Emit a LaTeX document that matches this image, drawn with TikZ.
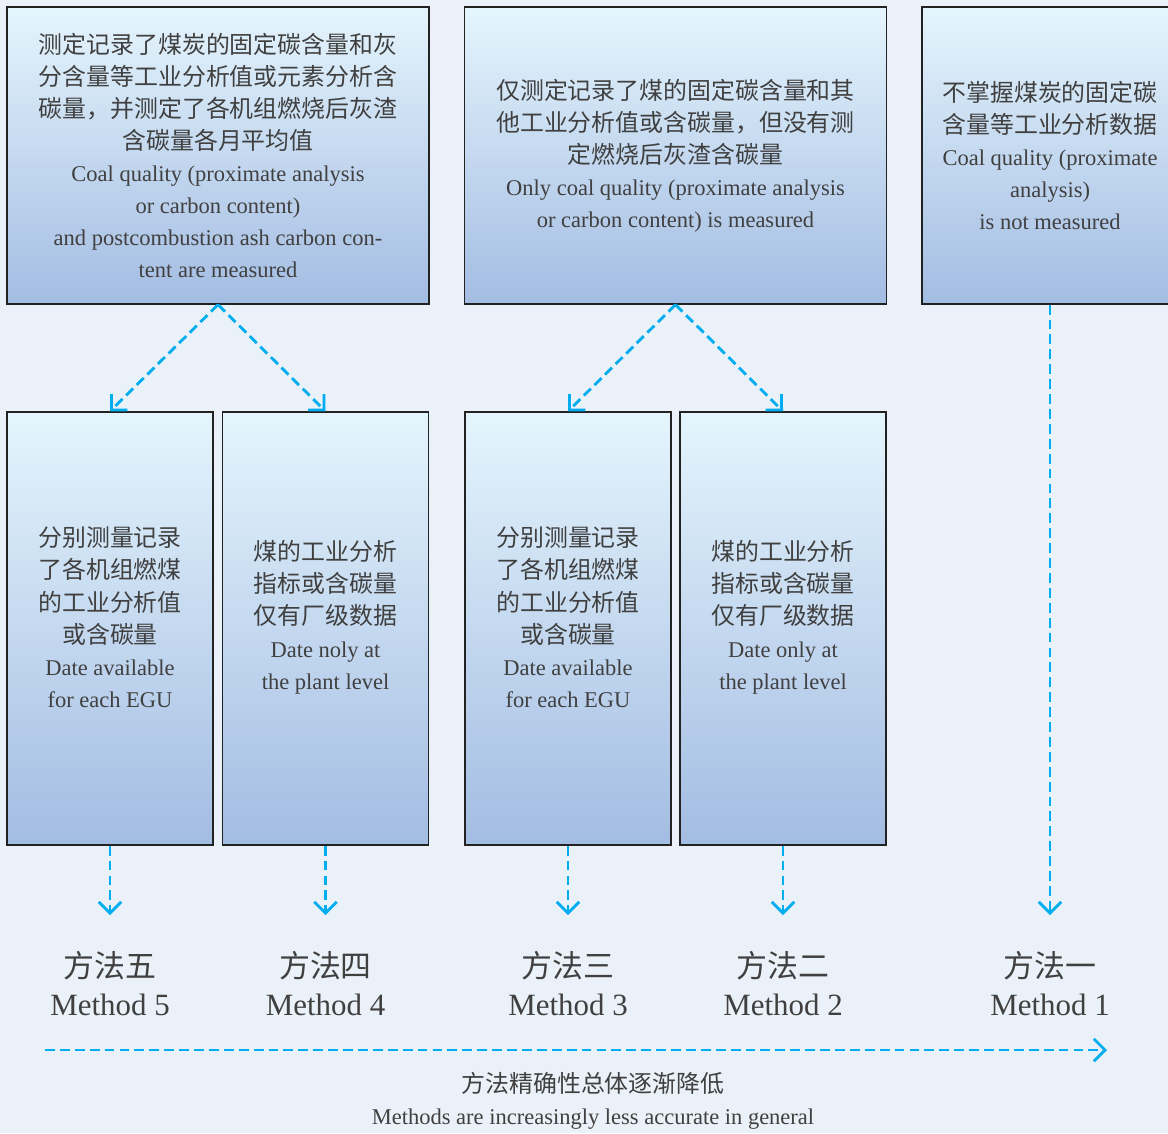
\documentclass[tikz,border=0pt]{standalone}
\usepackage{fontspec}
\setmainfont{Liberation Serif}
\newfontfamily\cjk{Noto Sans CJK SC}
\usetikzlibrary{arrows.meta}

\definecolor{bgblue}{HTML}{EAF1F8}
\definecolor{boxtop}{HTML}{E5F5FD}
\definecolor{boxbot}{HTML}{A3BCE2}
\definecolor{boxline}{HTML}{222222}
\definecolor{flowblue}{HTML}{00AEEF}
\definecolor{txtgray}{HTML}{404040}

\newcommand{\zh}{\cjk\fontsize{17}{22.8}\selectfont}
\newcommand{\en}{\fontsize{16}{22.8}\selectfont}

\tikzset{
  box/.style={draw=boxline, line width=0.9pt, top color=boxtop, bottom color=boxbot,
    inner sep=0pt, minimum height=7.425cm},
  cell/.style={box, minimum width=5.15cm, minimum height=10.825cm},
  txt/.style={align=center, text=txtgray, inner sep=0pt, font=\fontsize{16}{22.8}\selectfont},
  meth/.style={align=center, text=txtgray, inner sep=0pt, font=\fontsize{22}{27}\selectfont},
  flow/.style={draw=flowblue, line width=2pt, dash pattern=on 7pt off 3.6pt,
    -{Straight Barb[length=8pt,width=16pt]}},
}

\begin{document}
\begin{tikzpicture}[x=0.025cm, y=-0.025cm]
  % page
  \useasboundingbox (0,0) rectangle (1168,1133);
  \clip (0,0) rectangle (1168,1133);
  \fill[bgblue] (0,0) rectangle (1168,1133);

  % measured data
  \node[box, minimum width=10.55cm] (top5) at (218,155.5) {};
  \node[box, minimum width=10.55cm] (top3) at (675.5,155.5) {};
  \node[box, minimum width=6.4cm]   (top1) at (1050,155.5) {};

  \node[txt] (top5txt) at (top5.center) {%
    {\zh 测定记录了煤炭的固定碳含量和灰}\\
    {\zh 分含量等工业分析值或元素分析含}\\
    {\zh 碳量，并测定了各机组燃烧后灰渣}\\
    {\zh 含碳量各月平均值}\\
    {\en Coal quality (proximate analysis}\\
    {\en or carbon content)}\\
    {\en and postcombustion ash carbon con-}\\
    {\en tent are measured}};
  \node[txt] (top3txt) at (top3.center) {%
    {\zh 仅测定记录了煤的固定碳含量和其}\\
    {\zh 他工业分析值或含碳量，但没有测}\\
    {\zh 定燃烧后灰渣含碳量}\\
    {\en Only coal quality (proximate analysis}\\
    {\en or carbon content) is measured}};
  \node[txt] (top1txt) at (top1.center) {%
    {\zh 不掌握煤炭的固定碳}\\
    {\zh 含量等工业分析数据}\\
    {\en Coal quality (proximate}\\
    {\en analysis)}\\
    {\en is not measured}};

  % data level
  \node[cell] (unit5)  at (110,628.5) {};
  \node[cell] (plant4) at (325.5,628.5) {};
  \node[cell] (unit3)  at (568,628.5) {};
  \node[cell] (plant2) at (783,628.5) {};

  \foreach \b in {unit5, unit3}
    \node[txt, yshift=8pt] (\b txt) at (\b.center) {%
      {\zh 分别测量记录}\\
      {\zh 了各机组燃煤}\\
      {\zh 的工业分析值}\\
      {\zh 或含碳量}\\
      {\en Date available}\\
      {\en for each EGU}};
  \node[txt, yshift=8pt] (plant4txt) at (plant4.center) {%
    {\zh 煤的工业分析}\\
    {\zh 指标或含碳量}\\
    {\zh 仅有厂级数据}\\
    {\en Date noly at}\\
    {\en the plant level}};
  \node[txt, yshift=8pt] (plant2txt) at (plant2.center) {%
    {\zh 煤的工业分析}\\
    {\zh 指标或含碳量}\\
    {\zh 仅有厂级数据}\\
    {\en Date only at}\\
    {\en the plant level}};

  % methods
  \node[meth] (m5) at (110,984) {{\cjk 方法五}\\Method 5};
  \node[meth] (m4) at (325.5,984) {{\cjk 方法四}\\Method 4};
  \node[meth] (m3) at (568,984) {{\cjk 方法三}\\Method 3};
  \node[meth] (m2) at (783,984) {{\cjk 方法二}\\Method 2};
  \node[meth] (m1) at (1050,984) {{\cjk 方法一}\\Method 1};

  % arrow ends
  \coordinate (m5tip) at (110,915);
  \coordinate (m4tip) at (325.5,915);
  \coordinate (m3tip) at (568,915);
  \coordinate (m2tip) at (783,915);
  \coordinate (m1tip) at (1050,915);
  \coordinate (lessStart) at (45,1050);
  \coordinate (lessEnd)   at (1107,1050);

  % flows
  \draw[flow] (top5.south) -- (unit5.north);
  \draw[flow] (top5.south) -- (plant4.north);
  \draw[flow] (top3.south) -- (unit3.north);
  \draw[flow] (top3.south) -- (plant2.north);
  \draw[flow] (unit5.south)  -- (m5tip);
  \draw[flow] (plant4.south) -- (m4tip);
  \draw[flow] (unit3.south)  -- (m3tip);
  \draw[flow] (plant2.south) -- (m2tip);
  \draw[flow] (top1.south)   -- (m1tip);
  \draw[flow] (lessStart) -- (lessEnd);

  % accuracy
  \node[txt] (less) at (593,1101) {{\cjk\fontsize{17}{22.8}\selectfont 方法精确性总体逐渐降低}\\{\en Methods are increasingly less accurate in general}};
\end{tikzpicture}
\end{document}
